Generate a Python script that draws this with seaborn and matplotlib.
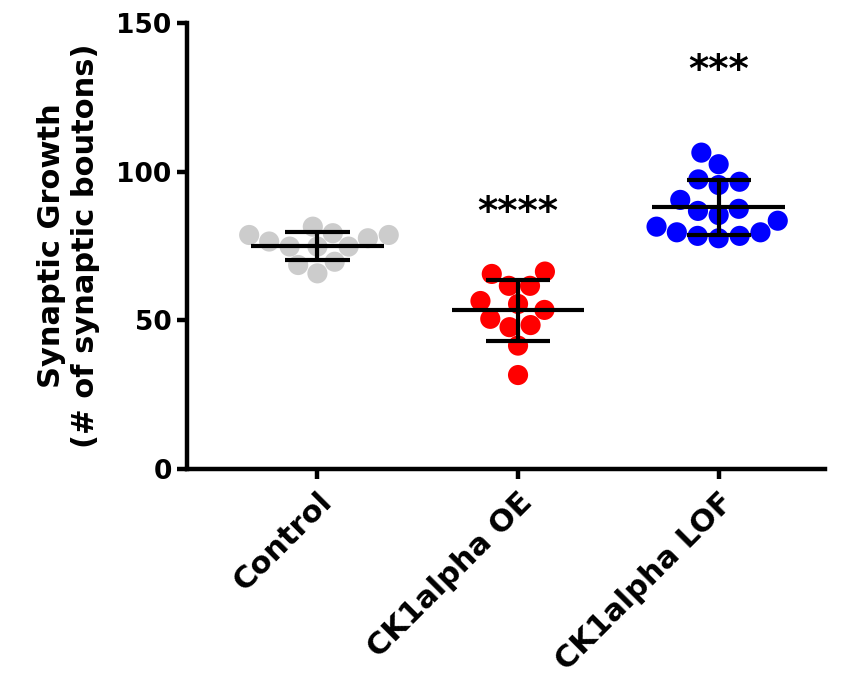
import numpy as np
import pandas as pd
import seaborn as sns
import matplotlib
matplotlib.use("Agg")
import matplotlib.pyplot as plt

# values
groups = ["Control", "CK1alpha OE", "CK1alpha LOF"]
control = [81.5, 78.7, 74.8, 77.6, 79.3, 76.5, 78.7, 74.8, 74.8, 69.7, 65.8, 68.6]
ck1_oe = [66.4, 65.6, 61.6, 61.6, 56.5, 55.5, 53.5, 50.5, 47.7, 48.4, 41.5, 31.6]
ck1_lof = [106.4, 102.5, 96.6, 97.4, 95.5, 90.5, 87.5, 86.8, 85.4, 83.5, 81.5,
           79.6, 78.4, 77.6, 78.4, 79.6]
stars = ["", "****", "***"]
star_y = [None, 86, 134]
colors = ["#cccccc", "#ff0000", "#0000ff"]

df = pd.DataFrame({
    "group": [groups[0]] * len(control) + [groups[1]] * len(ck1_oe) + [groups[2]] * len(ck1_lof),
    "value": control + ck1_oe + ck1_lof,
})

sns.set_style("ticks")
plt.rcParams["font.family"] = ["DejaVu Sans"]
plt.rcParams["font.weight"] = "bold"
plt.rcParams["text.color"] = "black"
plt.rcParams["axes.labelcolor"] = "black"
plt.rcParams["xtick.color"] = "black"
plt.rcParams["ytick.color"] = "black"
plt.rcParams["axes.edgecolor"] = "black"

fig = plt.figure(figsize=(8.47, 6.9), dpi=100)
ax = fig.add_axes([0.2208, 0.3203, 0.7532, 0.6464])

sns.swarmplot(data=df, x="group", y="value", hue="group", order=groups,
              hue_order=groups, palette=colors, size=14.5, legend=False,
              linewidth=0, ax=ax, zorder=2)

# mean and SD bars
for i, g in enumerate(groups):
    v = df.loc[df["group"] == g, "value"].to_numpy()
    m, sd = v.mean(), v.std(ddof=1)
    ax.hlines(m, i - 0.33, i + 0.33, color="black", lw=3, zorder=3)
    ax.vlines(i, m - sd, m + sd, color="black", lw=3, zorder=3)
    ax.hlines([m - sd, m + sd], i - 0.16, i + 0.16, color="black", lw=3, zorder=3)
    if stars[i]:
        ax.text(i, star_y[i], stars[i], ha="center", va="center",
                fontsize=28, fontweight="bold", color="black")

ax.set_xlim(-0.65, 2.53)
ax.set_ylim(0, 150)
ax.set_yticks([0, 50, 100, 150])
ax.set_xlabel("")
ax.set_ylabel("Synaptic Growth\n(# of synaptic boutons)", fontsize=22,
              fontweight="bold", labelpad=12, color="black")
sns.despine(ax=ax)
for s in ["left", "bottom"]:
    ax.spines[s].set_linewidth(3.2)
    ax.spines[s].set_color("black")
ax.tick_params(axis="both", width=3.2, length=7, color="black", labelcolor="black")
ax.tick_params(axis="y", labelsize=19, pad=4)
ax.tick_params(axis="x", labelsize=22, pad=6)
for lab in ax.get_xticklabels():
    lab.set_rotation(45)
    lab.set_ha("right")
    lab.set_rotation_mode("anchor")
    lab.set_fontweight("bold")
for lab in ax.get_yticklabels():
    lab.set_fontweight("bold")

fig.savefig("out.png", dpi=100)
